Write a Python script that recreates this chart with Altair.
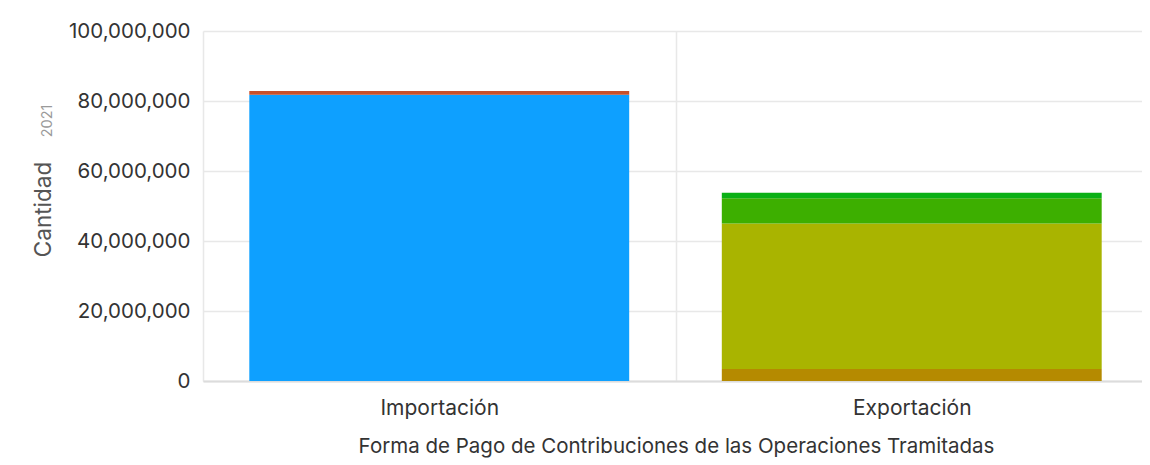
import altair as alt
import pandas as pd

# Data
categorias = ["Importación", "Exportación"]
tipos = ["Importación", "Importación", "Exportación", "Exportación", "Exportación", "Exportación"]
formas = ["Pago electrónico", "Efectivo", "Cheque", "Transferencia", "Compensación", "Certificado"]
valores = [81_800_000, 1_060_000, 3_430_000, 41_600_000, 7_150_000, 1_600_000]
orden = [1, 2, 1, 2, 3, 4]
colores = ["#0EA0FF", "#C8502A", "#B58A00", "#A9B400", "#3DAF00", "#0AB015"]
ticks_y = [0, 20_000_000, 40_000_000, 60_000_000, 80_000_000, 100_000_000]
anio = ["2021"]

df = pd.DataFrame({"tipo": tipos, "forma": formas, "valor": valores, "orden": orden})

W, H = 939, 350
FONT = "Inter"

bars = alt.Chart(df).mark_bar(width={"band": 0.804}).encode(
    x=alt.X(
        "tipo:N",
        sort=categorias,
        scale=alt.Scale(paddingInner=0, paddingOuter=0, range=[0, 945]),
        axis=alt.Axis(
            title="Forma de Pago de Contribuciones de las Operaciones Tramitadas",
            titleX=473,
            labelAngle=0,
            ticks=False,
            domain=True,
            domainColor="#dcdcdc",
            domainWidth=2,
            grid=True,
            tickBand="extent",
            gridColor="#e8e8e8",
            gridWidth=1.5,
            labelFontSize=21,
            labelColor="#333333",
            labelPadding=16,
            labelFont=FONT,
            titleFontSize=20.5,
            titleColor="#333333",
            titleFontWeight="normal",
            titlePadding=18,
            titleFont=FONT,
        ),
    ),
    y=alt.Y(
        "valor:Q",
        stack="zero",
        scale=alt.Scale(domain=[0, 100_000_000]),
        axis=alt.Axis(
            values=ticks_y,
            format=",d",
            title="Cantidad",
            titleX=-160,
            titleY=178,
            titleAngle=270,
            titleAlign="center",
            titleBaseline="middle",
            titleFontSize=22.5,
            titleColor="#555555",
            titleFontWeight="normal",
            titleFont=FONT,
            ticks=False,
            domain=False,
            grid=True,
            gridColor="#e8e8e8",
            gridWidth=1.5,
            labelFontSize=20.5,
            labelColor="#333333",
            labelPadding=13,
            labelFont=FONT,
        ),
    ),
    color=alt.Color("forma:N", scale=alt.Scale(domain=formas, range=colores), legend=None),
    order=alt.Order("orden:Q"),
)

year_text = alt.Chart(pd.DataFrame({"t": anio})).mark_text(
    angle=270, fontSize=14.5, color="#9a9a9a", font=FONT, baseline="middle", align="center"
).encode(text="t:N", x=alt.value(-155), y=alt.value(90))

chart = alt.layer(bars, year_text).properties(
    width=W,
    height=H,
    autosize=alt.AutoSizeParams(type="none"),
    padding={"left": 195, "top": 23, "right": 0, "bottom": 82},
    background="white",
).configure_view(stroke=None)

chart.save("out.html", embed_options={"renderer": "svg", "actions": False})
